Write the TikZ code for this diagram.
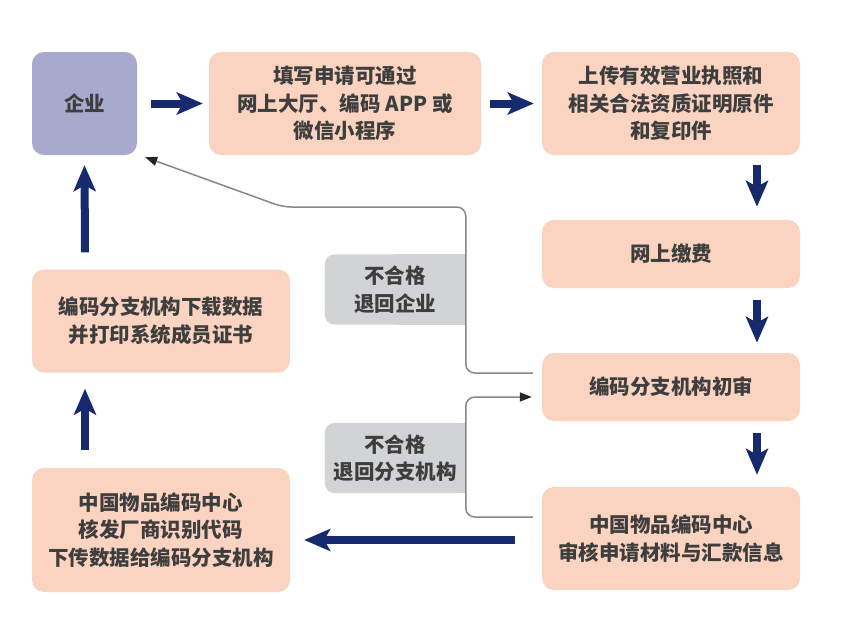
\documentclass[tikz,border=0pt]{standalone}
\usepackage{fontspec}
\setmainfont{Noto Sans CJK SC}
\usetikzlibrary{arrows.meta,calc,backgrounds}
\definecolor{peach}{RGB}{250,212,192}
\definecolor{lav}{RGB}{168,170,205}
\definecolor{lbl}{RGB}{210,211,213}
\definecolor{navy}{RGB}{24,42,110}
\definecolor{txt}{RGB}{62,62,62}
\definecolor{thin}{RGB}{135,135,135}
\begin{document}
\begin{tikzpicture}[x=1pt,y=-1pt,
  box/.style={rounded corners=12pt, fill=peach, align=center, text=txt,
    font=\fontsize{20.5}{27.5}\selectfont\bfseries, inner sep=0pt},
  lblbox/.style={box, fill=none, minimum width=140pt, minimum height=70pt},
  bigarr/.style={draw=navy, line width=8pt, -{Stealth[length=26pt,width=22pt,inset=6pt]}},
  thinarr/.style={draw=thin, line width=1.5pt, rounded corners=9pt},
  smalltip/.style={-{Triangle[length=12pt,width=9pt,color=black!85]}}
]
\useasboundingbox (0,0) rectangle (852,640);

\node[box, fill=lav, minimum width=105pt, minimum height=103pt] (qiye) at (84.5,103.5) {企业};
\node[box, minimum width=272pt, minimum height=103pt] (b2) at (345,103.5) {填写申请可通过\\网上大厅、编码 APP 或\\微信小程序};
\node[box, minimum width=258pt, minimum height=103pt] (b3) at (671,103.5) {上传有效营业执照和\\相关合法资质证明原件\\和复印件};
\node[box, minimum width=258pt, minimum height=68pt] (fee) at (671,254) {网上缴费};
\node[box, minimum width=258pt, minimum height=68pt] (chu) at (671,387) {编码分支机构初审};
\node[box, minimum width=258pt, minimum height=103pt] (sh) at (671,538.5) {中国物品编码中心\\审核申请材料与汇款信息};
\node[box, minimum width=258pt, minimum height=103pt] (ml) at (161,321) {编码分支机构下载数据\\并打印系统成员证书};
\node[box, minimum width=258pt, minimum height=124pt] (lb) at (161,530) {中国物品编码中心\\核发厂商识别代码\\下传数据给编码分支机构};

\node[lblbox] (lab1) at (395,289.5) {不合格\\退回企业};
\node[lblbox] (lab2) at (395,458) {不合格\\退回分支机构};

\begin{scope}[on background layer]
  \fill[white] (0,0) rectangle (852,640);
  \fill[lbl, rounded corners=10pt] (lab1.north west) rectangle (lab1.south east);
  \fill[lbl] (lab1.north) rectangle (lab1.south east);
  \fill[lbl, rounded corners=10pt] (lab2.north west) rectangle (lab2.south east);
  \fill[lbl] (lab2.north) rectangle (lab2.south east);
\end{scope}

% thick navy arrows
\draw[bigarr] ([xshift=14pt]qiye.east) -- ([xshift=-6pt]b2.west);
\draw[bigarr] ([xshift=9pt]b2.east) -- ([xshift=-8pt]b3.west);
\draw[bigarr] ([xshift=86pt,yshift=-10pt]b3.south) -- ([xshift=86pt,yshift=13pt]fee.north);
\draw[bigarr] ([xshift=86pt,yshift=-12pt]fee.south) -- ([xshift=86pt,yshift=10pt]chu.north);
\draw[bigarr] ([xshift=86pt,yshift=-12pt]chu.south) -- ([xshift=86pt,yshift=12pt]sh.north);
\draw[bigarr] ([xshift=-27pt,yshift=-1.5pt]sh.west) -- ([xshift=14pt,yshift=-1.5pt]sh.west -| lb.east);
\draw[bigarr] ([xshift=-76pt,yshift=18pt]lb.north) -- ([xshift=-76pt,yshift=-16pt]ml.south);
\draw[bigarr] ([xshift=-76pt,yshift=17pt]ml.north) -- ([yshift=-10pt]qiye.south);

% thin gray return lines
\draw[thinarr] ([xshift=-9pt,yshift=14pt]chu.west) -- ++(-67,0) -- ++(0,-166) -- ++(-183,0)
  [rounded corners=0pt, smalltip] -- ([xshift=8pt,yshift=-2pt]qiye.south east);
\draw[thinarr] ([xshift=-9pt,yshift=21.5pt]sh.west) -- ++(-67,0) -- ++(0,-120)
  [rounded corners=0pt, smalltip] -- ([xshift=-10pt,yshift=-10pt]chu.west);
\end{tikzpicture}
\end{document}
